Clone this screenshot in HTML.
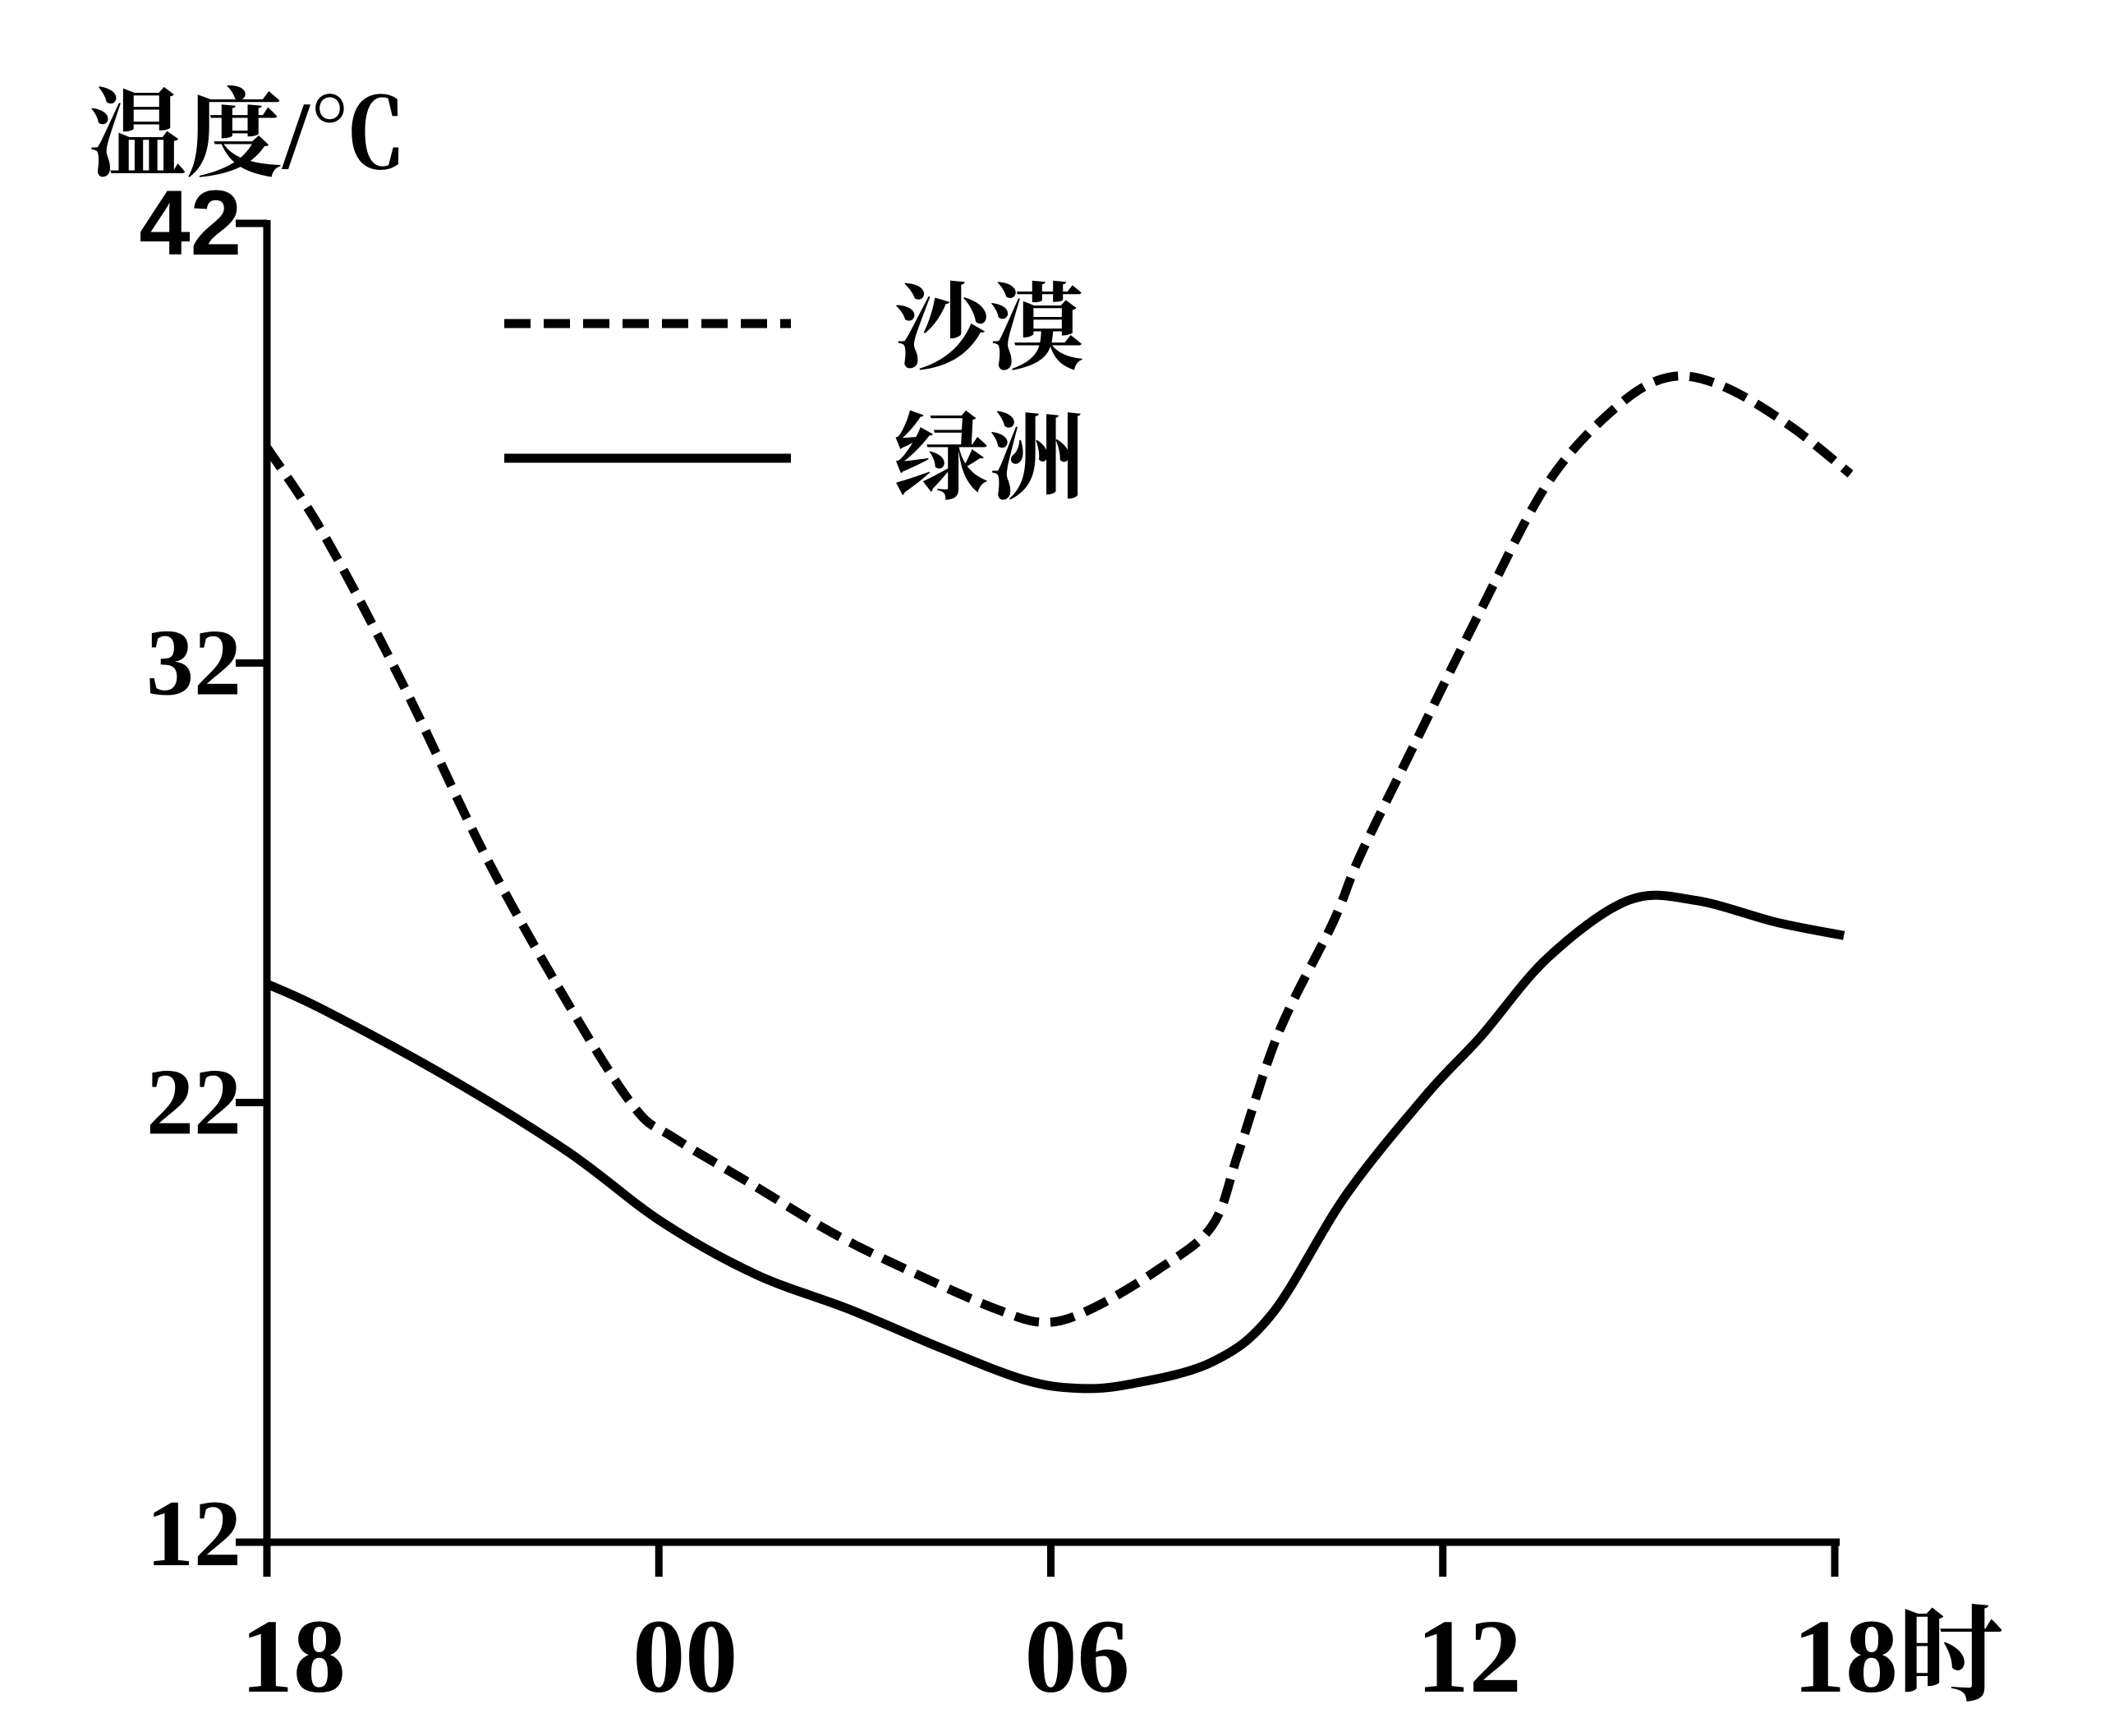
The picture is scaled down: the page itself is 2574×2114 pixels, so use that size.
<!DOCTYPE html>
<html><head><meta charset="utf-8"><style>
html,body{margin:0;padding:0;background:#fff;}
svg{display:block;}
</style></head><body>
<svg id="chart" width="2574" height="2114" viewBox="0 0 2574 2114" xmlns="http://www.w3.org/2000/svg">
<text x="108" y="205" font-family="'Liberation Serif','Noto Serif CJK SC',serif" font-weight="bold" font-size="118">温度/℃</text>
<g id="axes"></g>
<g id="legend">
  <line x1="614" y1="394" x2="963" y2="394" stroke="#000" stroke-width="11" stroke-dasharray="32,16"/>
  <text x="1088" y="440" font-family="'Liberation Serif','Noto Serif CJK SC',serif" font-weight="bold" font-size="116">沙漠</text>
  <line x1="614" y1="558" x2="963" y2="558" stroke="#000" stroke-width="11"/>
  <text x="1088" y="598" font-family="'Liberation Serif','Noto Serif CJK SC',serif" font-weight="bold" font-size="116">绿洲</text>
</g>
<g id="series"></g>
</svg>
<script>
const desertHours = [0,0.88,2.12,3.35,4.59,5.62,6.23,7.47,8.70,9.94,11.17,11.91,12.61,13.64,14.47,14.88,15.49,16.32,16.73,17.55,18.58,19.61,20.64,21.46,22.28,23.31,24.24];
const desertTemps = [36.9,34.9,31.4,27.6,24.3,21.9,21.2,20.1,19.0,18.1,17.3,17.0,17.3,18.2,19.2,20.9,23.6,26.1,27.6,30.1,33.2,36.1,37.8,38.5,38.3,37.4,36.3];
const oasisHours = [0,0.88,2.74,4.59,6.03,7.47,8.91,10.35,11.58,12.41,13.23,14.47,15.39,16.52,17.76,18.58,19.61,20.84,21.87,23.11,24.14];
const oasisTemps = [24.7,24.1,22.6,20.9,19.3,18.1,17.3,16.4,15.7,15.5,15.6,16.1,17.2,19.9,22.2,23.5,25.3,26.6,26.6,26.1,25.8];
const xTickHours = [0,6,12,18,24];
const xTickLabels = ["18","00","06","12","18时"];
const yTickValues = [42,32,22,12];
const yTickLabels = ["42","32","22","12"];

const NS="http://www.w3.org/2000/svg";
const X0=325, XPH=(2234-325)/24, Y12=1878, YPD=(1878-272)/30;
function sx(h){return X0+h*XPH;}
function sy(t){return Y12-(t-12)*YPD;}
function mk(tag,attrs,parent){const e=document.createElementNS(NS,tag);for(const k in attrs)e.setAttribute(k,attrs[k]);parent.appendChild(e);return e;}
const axes=document.getElementById('axes');
const series=document.getElementById('series');

const ya=mk('line',{x1:sx(0),y1:sy(42)-4,x2:sx(0),y2:sy(12)+4,stroke:'#000','stroke-width':9},axes);


const xa=mk('line',{x1:sx(0)-4,y1:sy(12),x2:sx(24)+6,y2:sy(12),stroke:'#000','stroke-width':9},axes);



yTickValues.forEach((v,i)=>{
  const y=sy(v);
  const t=mk('line',{x1:sx(0)-38,y1:y,x2:sx(0),y2:y,stroke:'#000','stroke-width':9},axes);
  
  
  const lab=mk('text',{x:294,y:y+(i===3?28:38),'text-anchor':'end','font-size':i===0?112:116,'font-weight':'bold','font-family':i===0?"'Liberation Sans',sans-serif":"'Liberation Serif',serif"},axes);
  lab.textContent=yTickLabels[i];
  
  
});
xTickHours.forEach((h,i)=>{
  const x=sx(h);
  const t=mk('line',{x1:x,y1:sy(12),x2:x,y2:sy(12)+42,stroke:'#000','stroke-width':9},axes);
  
  
  const last=i===xTickHours.length-1;
  const lab=mk('text',{x:last?x-51:x+32,y:2060,'text-anchor':last?'start':'middle','font-size':128,'font-weight':'bold','font-family':"'Liberation Serif','Noto Serif CJK SC',serif"},axes);
  lab.textContent=xTickLabels[i];
  
  
});

function pathFor(hs,ts){
  const p=hs.map((h,i)=>[sx(h),sy(ts[i])]);
  let d=`M${p[0][0]},${p[0][1]}`;
  for(let i=0;i<p.length-1;i++){
    const p0=p[i-1]||p[i],p1=p[i],p2=p[i+1],p3=p[i+2]||p2;
    const c1=[p1[0]+(p2[0]-p0[0])/6,p1[1]+(p2[1]-p0[1])/6];
    const c2=[p2[0]-(p3[0]-p1[0])/6,p2[1]-(p3[1]-p1[1])/6];
    d+=` C${c1[0]},${c1[1]} ${c2[0]},${c2[1]} ${p2[0]},${p2[1]}`;
  }
  return d;
}
const dl=mk('path',{d:pathFor(desertHours,desertTemps),fill:'none',stroke:'#000','stroke-width':11,'stroke-dasharray':'30,14'},series);


const ol=mk('path',{d:pathFor(oasisHours,oasisTemps),fill:'none',stroke:'#000','stroke-width':11},series);


</script>
</body></html>
